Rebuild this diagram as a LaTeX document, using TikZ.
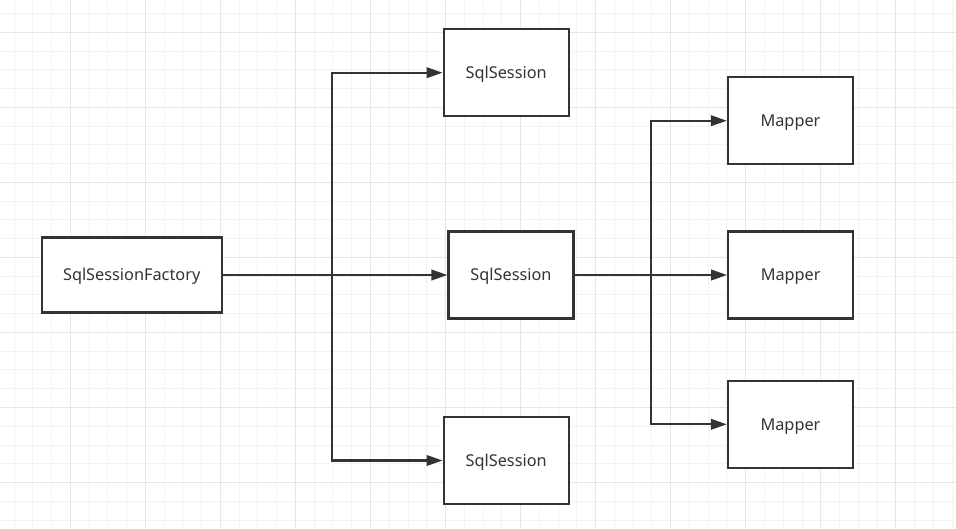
\documentclass[tikz,border=0pt]{standalone}
\usepackage{fontspec}
\setmainfont{Noto Sans}
\usetikzlibrary{arrows.meta,positioning}
\definecolor{vonalszin}{HTML}{333333}
\definecolor{racskicsi}{HTML}{F3F3F3}
\definecolor{racsnagy}{HTML}{E6E6E6}
\tikzset{
  doboz/.style={draw=vonalszin,line width=2.3pt,fill=white,inner sep=0pt,
                minimum width=125pt,minimum height=87pt,text=vonalszin,
                text height=11.6pt,text depth=0pt,
                font=\fontsize{16.3}{19}\selectfont},
  nyilvonal/.style={draw=vonalszin,line width=2.3pt,-{Triangle[length=16pt,width=10.5pt]}},
  racs/.style={racskicsi,line width=1pt},
  foracs/.style={racsnagy,line width=1pt},
}

\begin{document}
\begin{tikzpicture}[x=1pt,y=-1pt]
  \useasboundingbox (0,0) rectangle (956,528);
  \fill[white] (0,0) rectangle (956,528);
  % racs
  \foreach \i in {0,...,50} \draw[racs] (14+\i*18.762,0) -- ++(0,528);
  \foreach \j in {0,...,27} \draw[racs] (0,13.5+\j*18.762) -- ++(956,0);
  \foreach \i in {0,...,11} \draw[foracs] (70.3+\i*75.05,0) -- ++(0,528);
  \foreach \j in {0,...,6} \draw[foracs] (0,32.3+\j*75.05) -- ++(956,0);

  \node[doboz,minimum width=180pt,minimum height=75pt] (gyar) at (131.7,275) {SqlSessionFactory};
  \node[doboz] (ses1) at (506.2,72.7) {SqlSession};
  \node[doboz] (ses2) at (511,275) {SqlSession};
  \node[doboz] (ses3) at (506.2,460.5) {SqlSession};
  \node[doboz] (map1) at (790.5,120.7) {Mapper};
  \node[doboz] (map2) at (790.7,275) {Mapper};
  \node[doboz] (map3) at (790.5,424.3) {Mapper};

  \coordinate (elag1) at (332.3,275);
  \coordinate (elag2) at (651,275);

  \draw[nyilvonal] (gyar.east) -- (elag1) |- (ses1.west);
  \draw[nyilvonal] (gyar.east) -- (ses2.west);
  \draw[nyilvonal] (gyar.east) -- (elag1) |- (ses3.west);

  \draw[nyilvonal] (ses2.east) -- (elag2) |- (map1.west);
  \draw[nyilvonal] (ses2.east) -- (map2.west);
  \draw[nyilvonal] (ses2.east) -- (elag2) |- (map3.west);
\end{tikzpicture}
\end{document}
